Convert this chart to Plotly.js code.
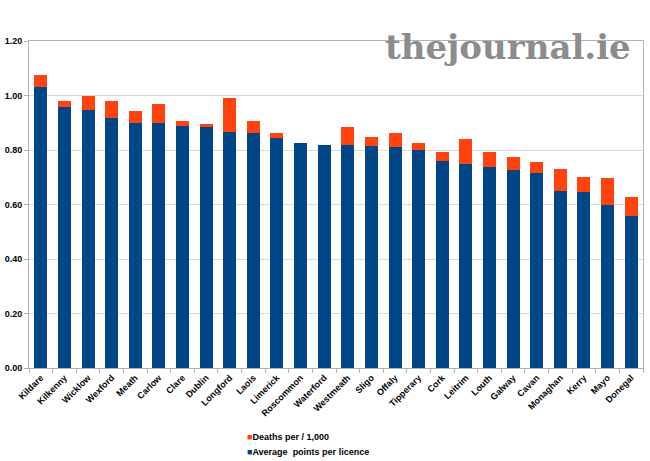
<!DOCTYPE html>
<html>
<head>
<meta charset="utf-8">
<script src="https://cdn.plot.ly/plotly-3.0.1.min.js"></script>
<style>html,body{margin:0;padding:0;background:#fff;}#chart{width:650px;height:461px;}</style>
</head>
<body>
<div id="chart"></div>
<script>
const counties = ["Kildare","Kilkenny","Wicklow","Wexford","Meath","Carlow","Clare","Dublin","Longford","Laois","Limerick","Roscommon","Waterford","Westmeath","Sligo","Offaly","Tipperary","Cork","Leitrim","Louth","Galway","Cavan","Monaghan","Kerry","Mayo","Donegal"];
const avgPoints = [1.032,0.958,0.946,0.918,0.900,0.899,0.888,0.883,0.867,0.861,0.843,0.827,0.820,0.817,0.815,0.810,0.800,0.761,0.749,0.736,0.727,0.717,0.648,0.647,0.599,0.557];
const deaths = [0.042,0.021,0.054,0.062,0.042,0.071,0.018,0.012,0.123,0.047,0.020,0.000,0.000,0.067,0.032,0.051,0.024,0.030,0.093,0.055,0.046,0.039,0.081,0.053,0.099,0.069];
const yTicks = [0,0.2,0.4,0.6,0.8,1.0,1.2];
const seriesNames = ['Average  points per licence','Deaths per / 1,000'];
const seriesColors = ['#004586','#ff420e'];

const traces = [
  {type:'bar', x:counties, y:avgPoints, name:seriesNames[0], marker:{color:seriesColors[0]}},
  {type:'bar', x:counties, y:deaths, name:seriesNames[1], marker:{color:seriesColors[1]}}
];
const legendFont = {size:9, family:'Liberation Sans, Arial, sans-serif', color:'#000', weight:'bold'};
const legendAnn = [1,0].map((i,k)=>({
  text:'<span style="color:'+seriesColors[i]+';font-size:9px">■</span>'+seriesNames[i],
  xref:'paper', yref:'paper', x:(245-29)/614, xanchor:'left',
  y:-(437+15*k-368)/327, yanchor:'middle', showarrow:false, font:legendFont, align:'left'
}));
const layout = {
  width:650, height:461,
  margin:{l:29, r:7, t:41, b:93},
  barmode:'stack', bargap:0.45,
  paper_bgcolor:'#fff', plot_bgcolor:'#fff',
  font:{family:'Liberation Sans, Arial, sans-serif', color:'#000'},
  showlegend:false,
  xaxis:{automargin:false, tickangle:-45, tickfont:{size:9, weight:'bold'}, showline:true, linecolor:'#b3b3b3', mirror:true,
    ticks:'outside', tickson:'boundaries', ticklen:4, tickcolor:'#b3b3b3', showgrid:false, fixedrange:true},
  yaxis:{automargin:false, range:[0,1.2], tickvals:yTicks, ticktext:yTicks.map(v=>v.toFixed(2)), tickfont:{size:9, weight:'bold'},
    showline:true, linecolor:'#b3b3b3', mirror:true, ticks:'outside', ticklen:4, tickcolor:'#b3b3b3',
    gridcolor:'#d9d9d9', zeroline:false, fixedrange:true},
  annotations:[{text:'thejournal.ie', xref:'paper', yref:'paper', x:(633-29)/614, xanchor:'right', y:0.982, yanchor:'middle',
    showarrow:false, font:{family:'DejaVu Serif, serif', size:34, color:'#8c8c8c', weight:'bold'}}].concat(legendAnn)
};
Plotly.newPlot('chart', traces, layout, {displayModeBar:false, staticPlot:true});
</script>
</body>
</html>
